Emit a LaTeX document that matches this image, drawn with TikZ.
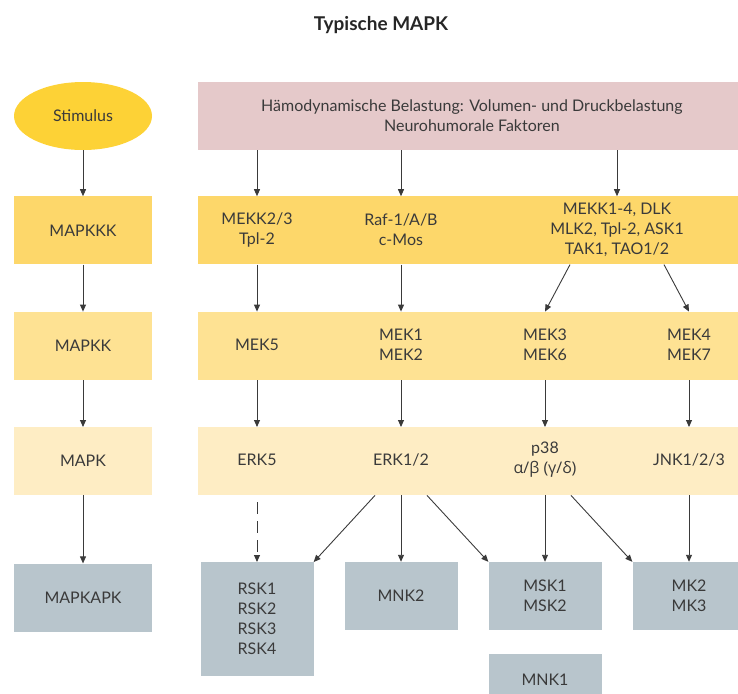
\documentclass[tikz,border=0pt]{standalone}
\usepackage{fontspec}
\setmainfont{Lato}
\newfontfamily\greekfont{Open Sans}
\usepackage{tikz}
\usetikzlibrary{shapes.geometric, arrows.meta, positioning, calc}
\definecolor{stimgold}{HTML}{FDD236}
\definecolor{loadpink}{HTML}{E5C9CA}
\definecolor{kkkyellow}{HTML}{FDD76A}
\definecolor{kkyellow}{HTML}{FEE293}
\definecolor{kyellow}{HTML}{FEEDC4}
\definecolor{apkgray}{HTML}{B8C5CC}
\definecolor{inkgray}{HTML}{3A3A3A}

\begin{document}
\begin{tikzpicture}[
  x=1pt, y=-1pt,
  node distance=47pt and 46pt,
  box/.style={minimum height=68pt, minimum width=138pt, inner sep=0pt,
              align=center, text=inkgray, font=\fontsize{16}{20}\selectfont},
  band/.style={box, minimum width=547pt},
  item/.style={align=center, inner sep=0pt, text=inkgray,
               font=\fontsize{16}{20}\selectfont},
  apk/.style={box, fill=apkgray, minimum width=113pt},
  arr/.style={-{Triangle[length=7pt, width=6pt]}, line width=0.9pt, color=inkgray},
]
  \useasboundingbox (0,0) rectangle (738,693);

  % Title
  \node[font=\bfseries\fontsize{19}{22}\selectfont, text=black!85] (title) at (381,25) {Typische MAPK};

  % Left column
  \node[box, ellipse, fill=stimgold] (stimulus) at (83,116) {Stimulus};
  \node[box, fill=kkkyellow, below=46pt of stimulus] (mapkkk) {MAPKKK};
  \node[box, fill=kkyellow, below=of mapkkk] (mapkk) {MAPKK};
  \node[box, fill=kyellow, below=of mapkk] (mapk) {MAPK};
  \node[box, fill=apkgray, below=68pt of mapk] (mapkapk) {MAPKAPK};

  % Bands
  \node[band, fill=loadpink, right=of stimulus] (load) {H\"amodynamische Belastung: Volumen- und Druckbelastung\\Neurohumorale Faktoren};
  \node[band, fill=kkkyellow, right=of mapkkk] (row1) {};
  \node[band, fill=kkyellow, right=of mapkk] (row2) {};
  \node[band, fill=kyellow, right=of mapk] (row3) {};

  % MAPKKK
  \node[item] (mekk) at (257,230) {MEKK2/3\\Tpl-2};
  \node[item] (raf) at (401,230) {Raf-1/A/B\\c-Mos};
  \node[item] (mekkx) at (617,230) {MEKK1-4, DLK\\MLK2, Tpl-2, ASK1\\TAK1, TAO1/2};

  % MAPKK
  \node[item] (mek5) at (257,345) {MEK5};
  \node[item] (mek12) at (401,345) {MEK1\\MEK2};
  \node[item] (mek36) at (545,345) {MEK3\\MEK6};
  \node[item] (mek47) at (689,345) {MEK4\\MEK7};

  % MAPK
  \node[item] (erk5) at (257,460) {ERK5};
  \node[item] (erk12) at (401,460) {ERK1/2};
  \node[item] (p38) at (545,460) {p38\\{\greekfont α/β (γ/δ)}};
  \node[item] (jnk) at (689,460) {JNK1/2/3};

  % MAPKAPK
  \node[apk, minimum height=114pt, anchor=north] (rsk) at (257,562) {RSK1\\RSK2\\RSK3\\RSK4};
  \node[apk] (mnk2) at (401,596) {MNK2};
  \node[apk] (msk) at (545,596) {MSK1\\MSK2};
  \node[apk] (mk) at (689,596) {MK2\\MK3};
  \node[apk, minimum height=50pt, below=24pt of msk] (mnk1) {MNK1};

  % Arrows - left column
  \draw[arr] (stimulus) -- (mapkkk);
  \draw[arr] (mapkkk) -- (mapkk);
  \draw[arr] (mapkk) -- (mapk);
  \draw[arr] (mapk) -- (mapkapk);

  % Stimulus -> MAPKKK
  \draw[arr] (load.south -| mekk) -- (row1.north -| mekk);
  \draw[arr] (load.south -| raf) -- (row1.north -| raf);
  \draw[arr] (load.south -| mekkx) -- (row1.north -| mekkx);

  % MAPKKK -> MAPKK
  \draw[arr] (row1.south -| mekk) -- (row2.north -| mek5);
  \draw[arr] (row1.south -| raf) -- (row2.north -| mek12);
  \draw[arr] ($(row1.south -| mekkx)+(-47,0)$) -- (row2.north -| mek36);
  \draw[arr] ($(row1.south -| mekkx)+(47,0)$) -- (row2.north -| mek47);

  % MAPKK -> MAPK
  \draw[arr] (row2.south -| mek5) -- (row3.north -| erk5);
  \draw[arr] (row2.south -| mek12) -- (row3.north -| erk12);
  \draw[arr] (row2.south -| mek36) -- (row3.north -| p38);
  \draw[arr] (row2.south -| mek47) -- (row3.north -| jnk);

  % MAPK -> MAPKAPK
  \draw[arr, dash pattern=on 12pt off 7pt, dash phase=12pt] (row3.south -| erk5) -- (rsk.north);
  \draw[arr] ($(row3.south -| erk12)+(-26,0)$) -- (rsk.north east);
  \draw[arr] (row3.south -| erk12) -- (mnk2.north);
  \draw[arr] ($(row3.south -| erk12)+(26,0)$) -- (msk.north west);
  \draw[arr] (row3.south -| p38) -- (msk.north);
  \draw[arr] ($(row3.south -| p38)+(26,0)$) -- (mk.north west);
  \draw[arr] (row3.south -| jnk) -- (mk.north);

\end{tikzpicture}
\end{document}
